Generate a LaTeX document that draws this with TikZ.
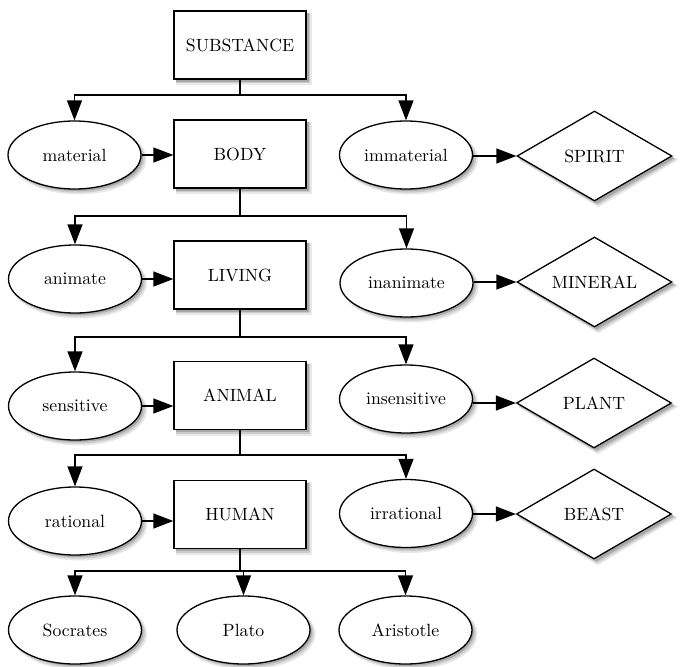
\documentclass[tikz,border=0pt]{standalone}
\usepackage{fontspec}
\newfontfamily\labelface{lmroman10-regular.otf}
\usetikzlibrary{shapes.geometric,arrows.meta,backgrounds}

\begin{document}
\begin{tikzpicture}[x=1pt,y=1pt,
  font=\labelface\fontsize{17.7}{21}\selectfont,
  line width=1.3pt,
  kind/.style={draw,rectangle,fill=white,minimum width=132pt,
      minimum height=68pt,inner sep=0pt},
  diff/.style={draw,ellipse,fill=white,minimum width=133pt,
      minimum height=68pt,inner sep=0pt},
  leaf/.style={draw,diamond,fill=white,shape aspect=1.72,
      minimum width=155pt,minimum height=90pt,inner sep=0pt},
  arr/.style={-{Triangle[length=20pt,width=15pt]}},
  shade1/.style={fill=black!9,draw=none},
  shade2/.style={fill=black!20,draw=none},
  shade3/.style={fill=black!34,draw=none},
]
\useasboundingbox (0,0) rectangle (681,-667);

% tree of genera and differentiae
\node[kind] (sub)    at (240,-45)    {SUBSTANCE};

\node[diff] (mat)    at (74.5,-155)  {material};
\node[kind] (body)   at (240,-154)   {BODY};
\node[diff] (imm)    at (406,-155)   {immaterial};
\node[leaf] (spirit) at (594.5,-156) {SPIRIT};

\node[diff] (ani)    at (75,-279)    {animate};
\node[kind] (living) at (240,-275)   {LIVING};
\node[diff] (inani)  at (406.5,-283) {inanimate};
\node[leaf] (mineral) at (594.5,-282) {MINERAL};

\node[diff] (sens)   at (75,-406)    {sensitive};
\node[kind] (animal) at (240,-395.5) {ANIMAL};
\node[diff] (insens) at (406,-399)   {insensitive};
\node[leaf] (plant)  at (594,-403)   {PLANT};

\node[diff] (rat)    at (75,-521)    {rational};
\node[kind] (human)  at (240,-514.5) {HUMAN};
\node[diff] (irr)    at (406,-513.5) {irrational};
\node[leaf] (beast)  at (594,-514)   {BEAST};

\node[diff] (soc)    at (75,-630)    {Socrates};
\node[diff] (plato)  at (243.5,-630) {Plato};
\node[diff] (arist)  at (405.5,-630) {Aristotle};

% soft shadows, offset down and to the right, behind every shape
\begin{scope}[on background layer]
  \foreach \s/\g/\d in {shade1/1.5/4, shade2/0.5/3.2, shade3/-0.5/2.4} {
    \foreach \n in {sub,body,living,animal,human}
      \fill[\s] ([shift={(\d-\g,-\d-\g)}]\n.south west)
                rectangle ([shift={(\d+\g,-\d+\g)}]\n.north east);
    \foreach \n in {mat,imm,ani,inani,sens,insens,rat,irr,soc,plato,arist}
      \fill[\s] ([shift={(\d,-\d)}]\n.center)
                ellipse [x radius=66.5+\g, y radius=34+\g];
    \foreach \n in {spirit,mineral,plant,beast}
      \fill[\s] ([shift={(\d-\g,-\d)}]\n.west) -- ([shift={(\d,-\d+\g)}]\n.north)
             -- ([shift={(\d+\g,-\d)}]\n.east) -- ([shift={(\d,-\d-\g)}]\n.south) -- cycle;
  }
\end{scope}

% horizontal levels of the branching lines
\coordinate (b1) at (0,-95);
\coordinate (b2) at (0,-216);
\coordinate (b3) at (0,-337);
\coordinate (b4) at (0,-455);
\coordinate (b5) at (0,-571);

% division of each genus
\draw[arr] (sub.south) -- (sub.south |- b1) -| (mat.north);
\draw[arr] (sub.south |- b1) -| (imm.north);

\draw[arr] (body.south) -- (body.south |- b2) -| (ani.north);
\draw[arr] (body.south |- b2) -| (inani.north);

\draw[arr] (living.south) -- (living.south |- b3) -| (sens.north);
\draw[arr] (living.south |- b3) -| (insens.north);

\draw[arr] (animal.south) -- (animal.south |- b4) -| (rat.north);
\draw[arr] (animal.south |- b4) -| (irr.north);

\draw[arr] (human.south) -- (human.south |- b5) -| (soc.north);
\draw[arr] (human.south |- b5) -| (plato.north);
\draw[arr] (human.south |- b5) -| (arist.north);

% differentia leading to species
\draw[arr] (mat.east) -- (mat.east -| body.west);
\draw[arr] (ani.east) -- (ani.east -| living.west);
\draw[arr] (sens.east) -- (sens.east -| animal.west);
\draw[arr] (rat.east) -- (rat.east -| human.west);

\draw[arr] (imm.east |- spirit.west) -- (spirit.west);
\draw[arr] (inani.east |- mineral.west) -- (mineral.west);
\draw[arr] (insens.east |- plant.west) -- (plant.west);
\draw[arr] (irr.east |- beast.west) -- (beast.west);
\end{tikzpicture}
\end{document}
